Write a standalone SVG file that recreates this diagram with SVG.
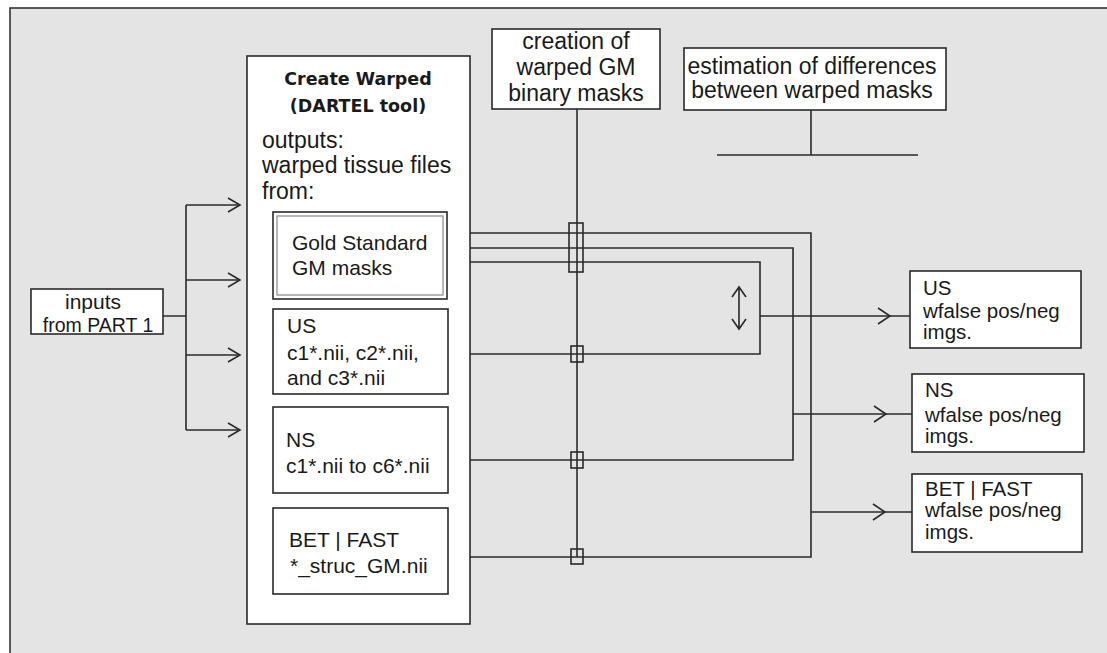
<svg xmlns="http://www.w3.org/2000/svg" width="1107" height="653" viewBox="0 0 1107 653">
<defs>
<style>
.bx{fill:#fff;stroke:#2a2a2a;stroke-width:1.6}
.ln{fill:none;stroke:#2a2a2a;stroke-width:1.6}
.t{font-family:"Liberation Sans",Arial,sans-serif;fill:#1a1a1a}
.tb{font-family:"DejaVu Sans",sans-serif;font-weight:bold;fill:#1a1a1a}
</style>
<marker id="ah" markerWidth="16" markerHeight="16" refX="13" refY="8" orient="auto" markerUnits="userSpaceOnUse">
<path d="M1,1 L13,8 L1,15" fill="none" stroke="#2a2a2a" stroke-width="1.6"/>
</marker>
</defs>
<rect x="0" y="0" width="1107" height="653" fill="#fff"/>
<rect x="10" y="8" width="1110" height="660" fill="#e4e4e4" stroke="#333" stroke-width="1.6"/>

<g id="connectors">
<path class="ln" d="M163,316 H186 M186,205 V430"/>
<path class="ln" d="M186,205 H240" marker-end="url(#ah)"/>
<path class="ln" d="M186,280 H240" marker-end="url(#ah)"/>
<path class="ln" d="M186,355 H240" marker-end="url(#ah)"/>
<path class="ln" d="M186,430 H240" marker-end="url(#ah)"/>
<path class="ln" d="M577,109 V557"/>
<path class="ln" d="M447,233 H811 V557 H448"/>
<path class="ln" d="M447,248 H793 V460 H448"/>
<path class="ln" d="M447,262 H760 V354 H448"/>
<rect class="ln" x="569" y="223" width="14" height="49"/>
<rect class="ln" x="571" y="346" width="12" height="16"/>
<rect class="ln" x="571" y="452" width="12" height="16"/>
<rect class="ln" x="571" y="549" width="12" height="15"/>
<path class="ln" d="M760,316 H910"/>
<path class="ln" d="M878,308 L890,316 L878,324"/>
<path class="ln" d="M793,414 H912"/>
<path class="ln" d="M874,406 L886,414 L874,422"/>
<path class="ln" d="M811,512 H912"/>
<path class="ln" d="M873,504 L885,512 L873,520"/>
<path class="ln" d="M739,287 V329 M732,297 L739,287 L746,297 M732,319 L739,329 L746,319"/>
<path class="ln" d="M811,110 V155 M717,155 H918"/>
</g>

<g id="inputs">
<rect class="bx" x="31" y="289" width="132" height="45"/>
<text class="t" x="93" y="309" font-size="21" text-anchor="middle">inputs</text>
<text class="t" x="98" y="332" font-size="19.5" text-anchor="middle">from PART 1</text>
</g>

<g id="create-warped">
<rect class="bx" x="247" y="56" width="223" height="568"/>
<text class="tb" x="358" y="85" font-size="17.5" text-anchor="middle">Create Warped</text>
<text class="tb" x="358" y="112" font-size="17.5" text-anchor="middle">(DARTEL tool)</text>
<text class="t" x="262" y="148" font-size="23">outputs:</text>
<text class="t" x="262" y="173" font-size="23">warped tissue files</text>
<text class="t" x="262" y="199" font-size="23">from:</text>
</g>

<g id="gold-standard">
<rect class="bx" x="273" y="212" width="174" height="87"/>
<rect x="277" y="216" width="166" height="79" fill="none" stroke="#999" stroke-width="1.4"/>
<text class="t" x="292" y="250" font-size="21">Gold Standard</text>
<text class="t" x="292" y="275" font-size="21">GM masks</text>
</g>

<g id="us-in">
<rect class="bx" x="273" y="309" width="175" height="85"/>
<text class="t" x="287" y="333" font-size="21">US</text>
<text class="t" x="287" y="360" font-size="21">c1*.nii, c2*.nii,</text>
<text class="t" x="287" y="385" font-size="21">and c3*.nii</text>
</g>

<g id="ns-in">
<rect class="bx" x="273" y="407" width="175" height="86"/>
<text class="t" x="286" y="447" font-size="21">NS</text>
<text class="t" x="286" y="473" font-size="21">c1*.nii to c6*.nii</text>
</g>

<g id="bet-in">
<rect class="bx" x="273" y="508" width="175" height="86"/>
<text class="t" x="289" y="547" font-size="21">BET | FAST</text>
<text class="t" x="290" y="573" font-size="21">*_struc_GM.nii</text>
</g>

<g id="creation">
<rect class="bx" x="492" y="29" width="168" height="80"/>
<text class="t" x="576" y="49" font-size="23" text-anchor="middle">creation of</text>
<text class="t" x="576" y="75" font-size="23" text-anchor="middle">warped GM</text>
<text class="t" x="576" y="101" font-size="23" text-anchor="middle">binary masks</text>
</g>

<g id="estimation">
<rect class="bx" x="684" y="48" width="262" height="62"/>
<text class="t" x="812" y="74" font-size="23" text-anchor="middle">estimation of differences</text>
<text class="t" x="812" y="98" font-size="23" text-anchor="middle">between  warped masks</text>
</g>

<g id="us-out">
<rect class="bx" x="910" y="271" width="171" height="77"/>
<text class="t" x="923" y="295" font-size="20.5">US</text>
<text class="t" x="923" y="318" font-size="20.5">wfalse pos/neg</text>
<text class="t" x="923" y="339" font-size="20.5">imgs.</text>
</g>

<g id="ns-out">
<rect class="bx" x="912" y="374" width="172" height="78"/>
<text class="t" x="925" y="397" font-size="20.5">NS</text>
<text class="t" x="925" y="422" font-size="20.5">wfalse pos/neg</text>
<text class="t" x="925" y="443" font-size="20.5">imgs.</text>
</g>

<g id="bet-out">
<rect class="bx" x="912" y="474" width="170" height="78"/>
<text class="t" x="925" y="496" font-size="20.5">BET | FAST</text>
<text class="t" x="925" y="517" font-size="20.5">wfalse pos/neg</text>
<text class="t" x="925" y="539" font-size="20.5">imgs.</text>
</g>
</svg>
